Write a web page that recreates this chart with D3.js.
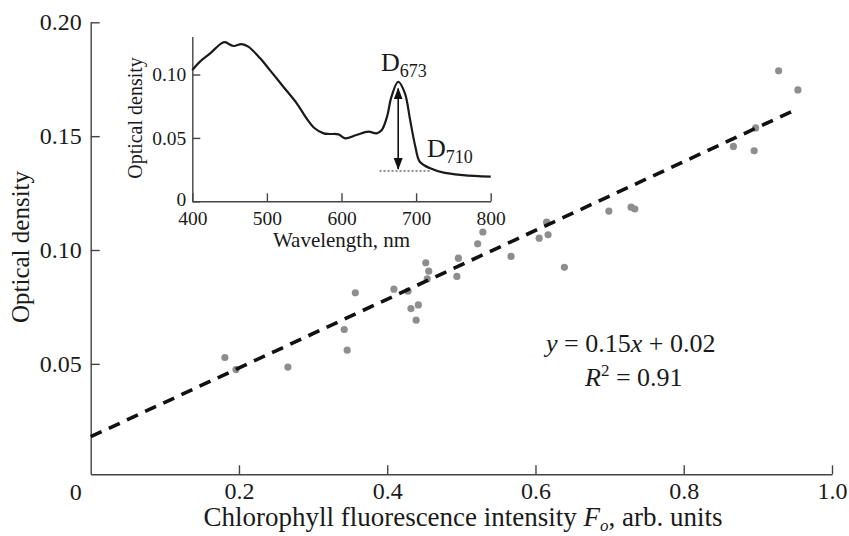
<!DOCTYPE html>
<html>
<head>
<meta charset="utf-8">
<script src="https://cdn.jsdelivr.net/npm/d3@7"></script>
<style>
  body { margin: 0; background: #fff; }
  svg { display: block; font-family: 'Liberation Serif', 'Times New Roman', serif; }
  .axis path, .axis line { stroke: #444; stroke-width: 1.4; }
  .axis text { fill: #1a1a1a; font-family: 'Liberation Serif', serif; }
</style>
</head>
<body>
<div id="chart"></div>
<script>
var width = 849
var height = 536

// main scatter: Fo vs optical density
var fluorescence = [0.181, 0.196, 0.266, 0.342, 0.346, 0.357, 0.409, 0.428, 0.432, 0.442,
  0.439, 0.452, 0.456, 0.454, 0.496, 0.494, 0.522, 0.529, 0.567, 0.605,
  0.615, 0.617, 0.639, 0.699, 0.729, 0.734, 0.867, 0.895, 0.897, 0.928, 0.954]
var density = [0.0528, 0.0475, 0.0486, 0.0651, 0.0560, 0.0812, 0.0828, 0.0819, 0.0743, 0.0759,
  0.0692, 0.0944, 0.0907, 0.0873, 0.0964, 0.0884, 0.1027, 0.1079, 0.0972, 0.1052,
  0.1123, 0.1067, 0.0924, 0.1171, 0.1188, 0.1180, 0.1455, 0.1436, 0.1536, 0.1787, 0.1703]
var fitSlope = 0.151
var fitIntercept = 0.018
var fitRange = [0, 0.95]
var xTicks = [0.2, 0.4, 0.6, 0.8, 1.0]
var yTicks = [0.05, 0.10, 0.15, 0.20]

// inset: absorption spectrum
var wavelength = [400, 410, 424, 439, 444, 455, 466, 475, 491, 504, 522, 540, 553, 564, 576, 584,
  596, 605, 620, 636, 647, 654, 661, 667, 676, 685, 692, 699, 705, 719, 737, 763, 800]
var absorbance = [0.1035, 0.110, 0.1167, 0.1246, 0.1255, 0.1225, 0.124, 0.122, 0.1128, 0.1035,
  0.0904, 0.0773, 0.0655, 0.0576, 0.0536, 0.0531, 0.0528, 0.0497, 0.0523, 0.0549, 0.0536,
  0.0562, 0.0667, 0.0825, 0.0943, 0.0852, 0.0641, 0.0431, 0.0312, 0.026, 0.0226, 0.0207, 0.0194]
var insetXTicks = [400, 500, 600, 700, 800]
var insetYTicks = [0, 0.05, 0.10]
var peakWavelength = 676
var peakTop = 0.089
var baseLevel = 0.0239
var baseRange = [651, 718]

var svg = d3.select('#chart').append('svg')
  .attr('width', width)
  .attr('height', height)

drawMain()
drawInset()

function drawMain() {
  var x = d3.scaleLinear().domain([0, 1]).range([90.7, 832])
  var y = d3.scaleLinear().domain([0.0015, 0.2]).range([474.3, 22.3])

  var xAxis = svg.append('g')
    .attr('class', 'axis')
    .attr('transform', 'translate(0,' + y.range()[0] + ')')
    .call(d3.axisBottom(x).tickValues(xTicks).tickFormat(d3.format('.1f'))
      .tickSizeInner(-9).tickSizeOuter(0).tickPadding(8))
  xAxis.selectAll('text').style('font-size', '24px')

  var yAxis = svg.append('g')
    .attr('class', 'axis')
    .attr('transform', 'translate(' + x.range()[0] + ',0)')
    .call(d3.axisLeft(y).tickValues(yTicks).tickFormat(d3.format('.2f'))
      .tickSizeInner(-9).tickSizeOuter(0).tickPadding(9))
  yAxis.selectAll('text').style('font-size', '24px')

  // origin label sits left of the axis corner
  svg.append('text')
    .attr('x', x(0) - 15)
    .attr('y', 500)
    .attr('text-anchor', 'middle')
    .style('font-size', '24px')
    .attr('fill', '#1a1a1a')
    .text('0')

  svg.selectAll('circle.point')
    .data(fluorescence)
    .enter()
    .append('circle')
    .attr('class', 'point')
    .attr('cx', function(d) { return x(d) })
    .attr('cy', function(d, i) { return y(density[i]) })
    .attr('r', 3.6)
    .attr('fill', '#8e8e8e')

  svg.append('line')
    .attr('x1', x(fitRange[0]))
    .attr('y1', y(fitIntercept + fitSlope * fitRange[0]))
    .attr('x2', x(fitRange[1]))
    .attr('y2', y(fitIntercept + fitSlope * fitRange[1]))
    .attr('stroke', '#111')
    .attr('stroke-width', 3.6)
    .attr('stroke-dasharray', '12,8')

  var eq = svg.append('text')
    .attr('x', 546)
    .attr('y', 352)
    .style('font-size', '26px')
    .attr('fill', '#1a1a1a')
  eq.append('tspan').style('font-style', 'italic').text('y')
  eq.append('tspan').text(' = 0.15')
  eq.append('tspan').style('font-style', 'italic').text('x')
  eq.append('tspan').text(' + 0.02')

  var r2 = svg.append('text')
    .attr('x', 585)
    .attr('y', 386)
    .style('font-size', '26px')
    .attr('fill', '#1a1a1a')
  r2.append('tspan').style('font-style', 'italic').text('R')
  r2.append('tspan').attr('dy', -10).style('font-size', '17px').text('2')
  r2.append('tspan').attr('dy', 10).text(' = 0.91')

  var xTitle = svg.append('text')
    .attr('x', 463)
    .attr('y', 526)
    .attr('text-anchor', 'middle')
    .style('font-size', '27px')
    .attr('fill', '#1a1a1a')
  xTitle.append('tspan').text('Chlorophyll fluorescence intensity ')
  xTitle.append('tspan').style('font-style', 'italic').text('F')
  xTitle.append('tspan').attr('dy', 5).style('font-style', 'italic').style('font-size', '17px').text('o')
  xTitle.append('tspan').attr('dy', -5).text(', arb. units')

  svg.append('text')
    .attr('transform', 'translate(29,247) rotate(-90)')
    .attr('text-anchor', 'middle')
    .style('font-size', '25px')
    .attr('fill', '#1a1a1a')
    .text('Optical density')
}

function drawInset() {
  var x = d3.scaleLinear().domain([400, 800]).range([192.3, 490.7])
  var y = d3.scaleLinear().domain([0, 0.13]).range([201.3, 36.5])

  var defs = svg.append('defs')
  defs.append('marker')
    .attr('id', 'head')
    .attr('markerUnits', 'userSpaceOnUse')
    .attr('markerWidth', 12)
    .attr('markerHeight', 10)
    .attr('refX', 11)
    .attr('refY', 4.5)
    .attr('orient', 'auto-start-reverse')
    .append('path')
    .attr('d', 'M0,0L12,4.5L0,9Z')
    .attr('fill', '#111')

  var xAxis = svg.append('g')
    .attr('class', 'axis')
    .attr('transform', 'translate(0,' + y(0) + ')')
    .call(d3.axisBottom(x).tickValues(insetXTicks)
      .tickSizeInner(-8).tickSizeOuter(0).tickPadding(9.5))
  xAxis.selectAll('text').style('font-size', '19.5px')

  var yAxis = svg.append('g')
    .attr('class', 'axis')
    .attr('transform', 'translate(' + x(400) + ',0)')
    .call(d3.axisLeft(y).tickValues(insetYTicks)
      .tickFormat(function(d) { return d === 0 ? '0' : d3.format('.2f')(d) })
      .tickSizeInner(-8).tickSizeOuter(0).tickPadding(6))
  yAxis.selectAll('text').style('font-size', '19.5px')
  // lift the zero a little so it clears the 400 label
  yAxis.selectAll('.tick').filter(function(d) { return d === 0 })
    .select('text').attr('dy', '0.2em')

  var line = d3.line()
    .x(function(d) { return x(d) })
    .y(function(d, i) { return y(absorbance[i]) })
    .curve(d3.curveCatmullRom)

  svg.append('path')
    .datum(wavelength)
    .attr('d', line)
    .attr('fill', 'none')
    .attr('stroke', '#1a1a1a')
    .attr('stroke-width', 2.2)

  svg.append('line')
    .attr('x1', x(baseRange[0]))
    .attr('x2', x(baseRange[1]))
    .attr('y1', y(baseLevel))
    .attr('y2', y(baseLevel))
    .attr('stroke', '#222')
    .attr('stroke-width', 1.2)
    .attr('stroke-dasharray', '2,2')

  svg.append('line')
    .attr('x1', x(peakWavelength))
    .attr('x2', x(peakWavelength))
    .attr('y1', y(peakTop))
    .attr('y2', y(baseLevel) - 2)
    .attr('stroke', '#111')
    .attr('stroke-width', 1.6)
    .attr('marker-start', 'url(#head)')
    .attr('marker-end', 'url(#head)')

  label('D', '673', 381, 71)
  label('D', '710', 427, 157)

  svg.append('text')
    .attr('transform', 'translate(142,118) rotate(-90)')
    .attr('text-anchor', 'middle')
    .style('font-size', '20px')
    .attr('fill', '#1a1a1a')
    .text('Optical density')

  svg.append('text')
    .attr('x', x(600))
    .attr('y', 247)
    .attr('text-anchor', 'middle')
    .style('font-size', '21px')
    .attr('fill', '#1a1a1a')
    .text('Wavelength, nm')

  function label(main, sub, lx, ly) {
    var t = svg.append('text')
      .attr('x', lx)
      .attr('y', ly)
      .style('font-size', '26px')
      .attr('fill', '#1a1a1a')
    t.append('tspan').text(main)
    t.append('tspan').attr('dy', 6).style('font-size', '18px').text(sub)
  }
}
</script>
</body>
</html>
